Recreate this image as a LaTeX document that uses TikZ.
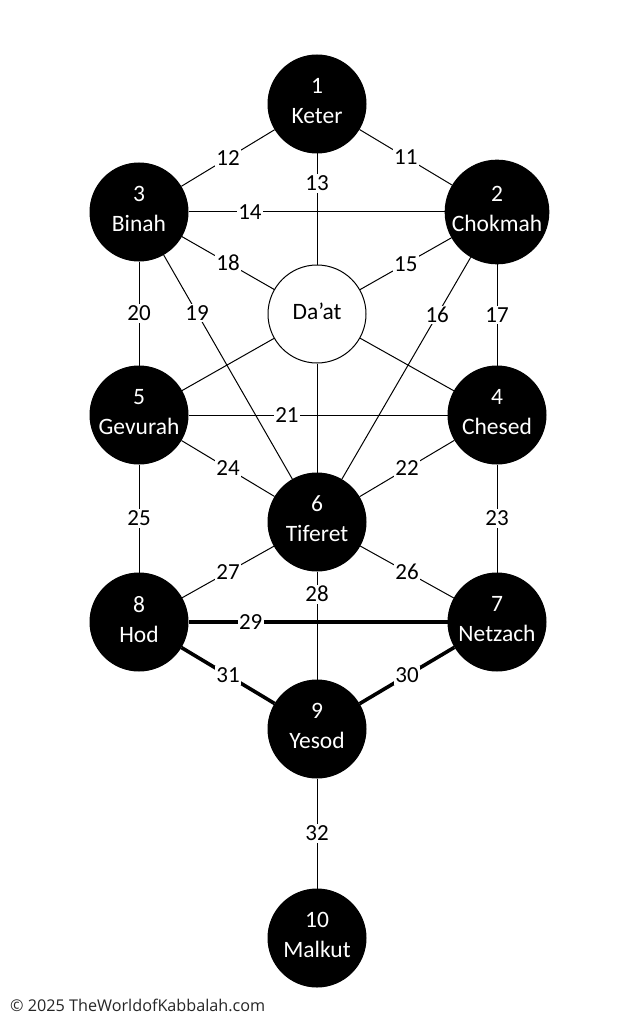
\documentclass[tikz,border=0pt]{standalone}
\usepackage{fontspec}
\setmainfont{Carlito}
\newfontfamily\footfont{Open Sans}
\usetikzlibrary{positioning}
\tikzset{main node/.style={circle,fill=black,draw,line width=1pt,minimum size=98pt,inner sep=0pt,text=white,align=center,text depth=6pt,font=\fontsize{23.5}{30}\selectfont},
open node/.style={main node,fill=white,text=black},
path label/.style={fill=white,inner sep=1.5pt,font=\fontsize{23}{26}\selectfont},
heavy/.style={line width=3.6pt},
}

\begin{document}
\begin{tikzpicture}[on grid]
	\path[use as bounding box] (0,0) rectangle (633pt,-1024pt);
	\node[main node] (1) at (317pt,-104pt) {1\\Keter};
	\node[main node] (2) [below right = 108pt and 180pt of 1] {2\\Chokmah};
	\node[main node] (3) [below left = 108pt and 178pt of 1] {3\\Binah};
	\node[open node] (daat) [below = 210pt of 1] {Da’at};
	\node[main node] (4) [below = 203pt of 2] {4\\Chesed};
	\node[main node] (5) [below = 203pt of 3] {5\\Gevurah};
	\node[main node] (6) [below = 208pt of daat] {6\\Tiferet};
	\node[main node] (7) [below = 207pt of 4] {7\\Netzach};
	\node[main node] (8) [below = 207pt of 5] {8\\Hod};
	\node[main node] (9) [below = 207pt of 6] {9\\Yesod};
	\node[main node] (10) [below = 209pt of 9] {10\\Malkut};
	\node (copy) [anchor=west,inner sep=0pt,text=black!85,font=\footfont\fontsize{16.2}{18}\selectfont] at (10pt,-1005pt) {© 2025 TheWorldofKabbalah.com};
	
	\path[draw,line width=1pt]
	(1) edge node[path label] {11} (2)
	(1) edge node[path label] {12} (3)
	(1) edge node[path label,pos=0.27] {13} (daat)
	(3) edge node[path label,pos=0.24] {14} (2)
	(2) edge node[path label] {15} (daat)
	(2) edge node[path label,pos=0.26] {16} (6)
	(2) edge node[path label] {17} (4)
	(3) edge node[path label] {18} (daat)
	(3) edge node[path label,pos=0.26] {19} (6)
	(3) edge node[path label] {20} (5)
	(daat) edge (5)
	(daat) edge (4)
	(daat) edge (6)
	(5) edge node[path label,pos=0.38] {21} (4)
	(4) edge node[path label] {22} (6)
	(4) edge node[path label] {23} (7)
	(5) edge node[path label] {24} (6)
	(5) edge node[path label] {25} (8)
	(6) edge node[path label] {26} (7)
	(6) edge node[path label] {27} (8)
	(8) edge[heavy] node[path label,pos=0.24] {29} (7)
	(7) edge[heavy] node[path label] {30} (9)
	(8) edge[heavy] node[path label] {31} (9)
	(6) edge node[path label,pos=0.21] {28} (9)
	(9) edge node[path label] {32} (10)
	;
\end{tikzpicture}
\end{document}
